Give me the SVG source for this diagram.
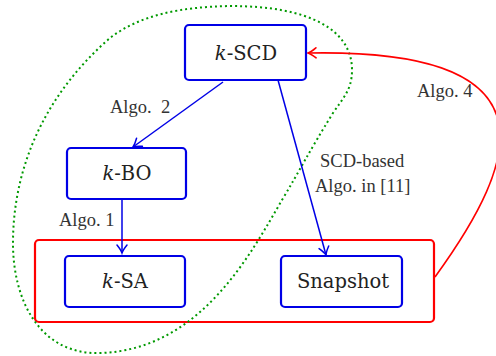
<svg xmlns="http://www.w3.org/2000/svg" width="496" height="356" viewBox="0 0 496 356">
<style>
.node{fill:#fff;stroke:#0000e6;stroke-width:2.2}
.nt{font-family:"DejaVu Serif",serif;font-size:19.5px;fill:#222;text-anchor:middle}
.lb{font-family:"Liberation Serif",serif;font-size:18.5px;fill:#333;white-space:pre}
.bl{fill:none;stroke:#0000e6;stroke-width:1.5}
.rd{fill:none;stroke:#ff0000;stroke-width:1.6}
</style>
<defs>
<marker id="ab" viewBox="-10 -6 12 12" refX="0" refY="0" markerWidth="12" markerHeight="12" markerUnits="userSpaceOnUse" orient="auto">
<path d="M-8,-5 Q-3,-1 0,0 Q-3,1 -8,5" fill="none" stroke="#0000e6" stroke-width="1.5" stroke-linecap="round"/>
</marker>
<marker id="ar" viewBox="-10 -6 12 12" refX="0" refY="0" markerWidth="12" markerHeight="12" markerUnits="userSpaceOnUse" orient="auto">
<path d="M-8,-5 Q-3,-1 0,0 Q-3,1 -8,5" fill="none" stroke="#ff0000" stroke-width="1.6" stroke-linecap="round"/>
</marker>
</defs>
<g id="groups">
<rect id="red-group" x="35" y="240" width="399" height="82" rx="4" fill="none" stroke="#ff0000" stroke-width="2.2"/>
<path id="green-group" d="M230,6 C310,6 352,30 352,70 C352,90 343,98 333,113 C310,150 300,170 282,200 C250,255 200,350 100,353 C40,355 12,300 13,240 C14,160 50,90 110,38 C140,15 180,7 230,6 Z" fill="none" stroke="#009900" stroke-width="2" stroke-dasharray="2 3"/>
</g>
<g id="connectors">
<path class="bl" d="M223,82 L133,147" marker-end="url(#ab)"/>
<path class="bl" d="M278,80 L326,255" marker-end="url(#ab)"/>
<path class="bl" d="M122,199 L122,253" marker-end="url(#ab)"/>
<path class="rd" d="M435,277 C520,160 560,48 308,53" marker-end="url(#ar)"/>
<text class="lb" x="110" y="113">Algo.  2</text>
<text class="lb" x="59" y="226">Algo. 1</text>
<text class="lb" x="320" y="167">SCD-based</text>
<text class="lb" x="315" y="192">Algo. in [11]</text>
<text class="lb" x="417" y="97">Algo. 4</text>
</g>
<g id="kscd">
<rect class="node" x="185" y="25" width="121" height="55" rx="4"/>
<text class="nt" x="246" y="60"><tspan font-style="italic">k</tspan>-SCD</text>
</g>
<g id="kbo">
<rect class="node" x="67" y="148" width="119" height="51" rx="4"/>
<text class="nt" x="127" y="180"><tspan font-style="italic">k</tspan>-BO</text>
</g>
<g id="ksa">
<rect class="node" x="65" y="256" width="120" height="51" rx="4"/>
<text class="nt" x="125" y="288"><tspan font-style="italic">k</tspan>-SA</text>
</g>
<g id="snapshot">
<rect class="node" x="281" y="256" width="121" height="51" rx="4"/>
<text class="nt" x="343" y="288">Snapshot</text>
</g>
</svg>
